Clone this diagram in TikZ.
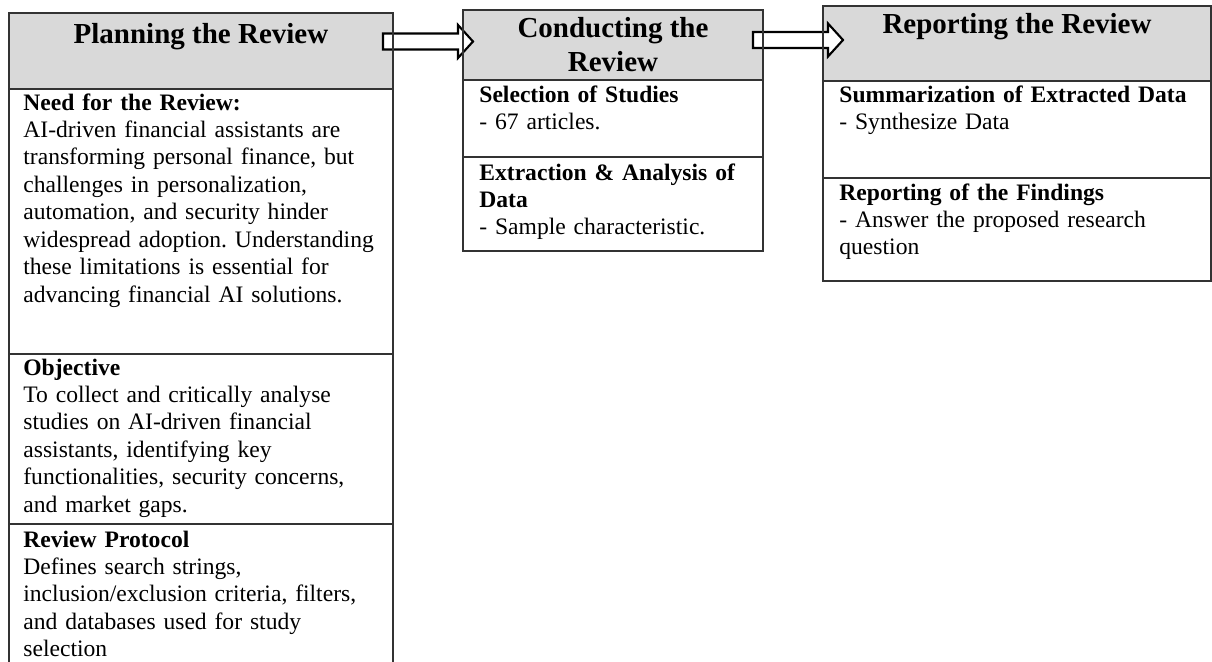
\documentclass[tikz,border=0pt]{standalone}
\usepackage{fontspec}
\setmainfont{Liberation Serif}
\usetikzlibrary{positioning,calc,fit}

\newdimen\pxu \pxu=0.5172pt
\newcommand\bodyfont{\fontsize{12.2}{14.2}\selectfont\frenchspacing}
\newcommand\headfont{\fontsize{15}{17.8}\selectfont\bfseries}

\begin{document}
\begin{tikzpicture}[
  x=0.5172pt, y=-0.5172pt,
  hdr/.style={fill=black!15, inner sep=0pt, outer sep=0pt},
  sec/.style={draw=black!80, line width=0.6pt, inner sep=0pt, outer sep=0pt},
  rim/.style={draw=black!80, line width=0.6pt},
  ttl/.style={anchor=base, align=center, font=\headfont, inner sep=0pt},
  txt/.style={anchor=base west, align=left, font=\bodyfont, inner sep=0pt},
  blockarr/.style={draw=black, fill=white, line width=1.1pt, line join=miter}]

\useasboundingbox (0,0) rectangle (1212,661);
\clip (0,0) rectangle (1212,661);

% ================= the three stages =======================================
\node[hdr, fit={(9,13) (393,89)}]    (plan) {};
\node[hdr, fit={(463,10) (763,80)}]  (cond) {};
\node[hdr, fit={(823,6) (1211,81)}]  (rep)  {};

\node[sec, fit={(9,89) (393,354)}]    (need)  {};
\node[sec, fit={(9,354) (393,524)}]   (obj)   {};
\node[sec, fit={(9,524) (393,690)}]   (proto) {};

\node[sec, fit={(463,80) (763,157)}]  (sel) {};
\node[sec, fit={(463,157) (763,251)}] (ext) {};

\node[sec, fit={(823,81) (1211,178)}]  (summ) {};
\node[sec, fit={(823,178) (1211,281)}] (find) {};

% ================= the block arrows =======================================
\coordinate (a1s) at ($(plan.north east)+(-10,28.5)$);
\coordinate (a1e) at ($(cond.west |- a1s)+(10,0)$);
\coordinate (a2s) at ($(cond.north east)+(-10,30)$);
\coordinate (a2e) at ($(rep.west |- a2s)+(20,0)$);

\draw[blockarr] ($(a1s)+(0,-8)$) -- ($(a1e)+(-15,-8)$) -- ($(a1e)+(-15,-16.5)$)
  -- (a1e) -- ($(a1e)+(-15,16.5)$) -- ($(a1e)+(-15,8)$) -- ($(a1s)+(0,8)$) -- cycle;
\draw[blockarr] ($(a2s)+(0,-8)$) -- ($(a2e)+(-15,-8)$) -- ($(a2e)+(-15,-16.5)$)
  -- (a2e) -- ($(a2e)+(-15,16.5)$) -- ($(a2e)+(-15,8)$) -- ($(a2s)+(0,8)$) -- cycle;

% header rims over the arrows
\draw[rim] (plan.north west) rectangle (plan.south east);
\draw[rim] (cond.north west) rectangle (cond.south east);
\draw[rim] (rep.north west)  rectangle (rep.south east);

% ================= titles ==================================================
\node[ttl] (planttl) at ($(plan.north)+(0,30)$) {Planning the Review};
\node[ttl] (condttl) at ($(cond.north)+(0,62)$) {Conducting the\\Review}; % base = last line
\node[ttl] (repttl)  at ($(rep.north)+(0,27)$)  {Reporting the Review};

% ================= texts ===================================================
\node[txt, text width=368\pxu] (needtxt) at ([shift={(14,21)}]need.north west)
  {\textbf{Need for the Review:}\\
   AI-driven financial assistants are\\
   transforming personal finance, but\\
   challenges in personalization,\\
   automation, and security hinder\\
   widespread adoption. Understanding\\
   these limitations is essential for\\
   advancing financial AI solutions.};
\node[txt, text width=368\pxu] (objtxt) at ([shift={(14,21)}]obj.north west)
  {\textbf{Objective}\\
   To collect and critically analyse\\
   studies on AI-driven financial\\
   assistants, identifying key\\
   functionalities, security concerns,\\
   and market gaps.};
\node[txt, text width=368\pxu] (prototxt) at ([shift={(14,23)}]proto.north west)
  {\textbf{Review Protocol}\\
   Defines search strings,\\
   inclusion/exclusion criteria, filters,\\
   and databases used for study\\
   selection};

\node[txt, text width=280\pxu] (seltxt) at ([shift={(16,22)}]sel.north west)
  {\textbf{Selection of Studies}\\
   - 67 articles.};
\node[txt, text width=280\pxu] (exttxt) at ([shift={(16,23)}]ext.north west)
  {\textbf{Extraction \& Analysis of}\\
   \textbf{Data}\\
   - Sample characteristic.};

\node[txt, text width=370\pxu] (summtxt) at ([shift={(16,21)}]summ.north west)
  {\textbf{Summarization of Extracted Data}\\
   - Synthesize Data};
\node[txt, text width=370\pxu] (findtxt) at ([shift={(16,22)}]find.north west)
  {\textbf{Reporting of the Findings}\\
   - Answer the proposed research\\
   question};

\end{tikzpicture}
\end{document}
